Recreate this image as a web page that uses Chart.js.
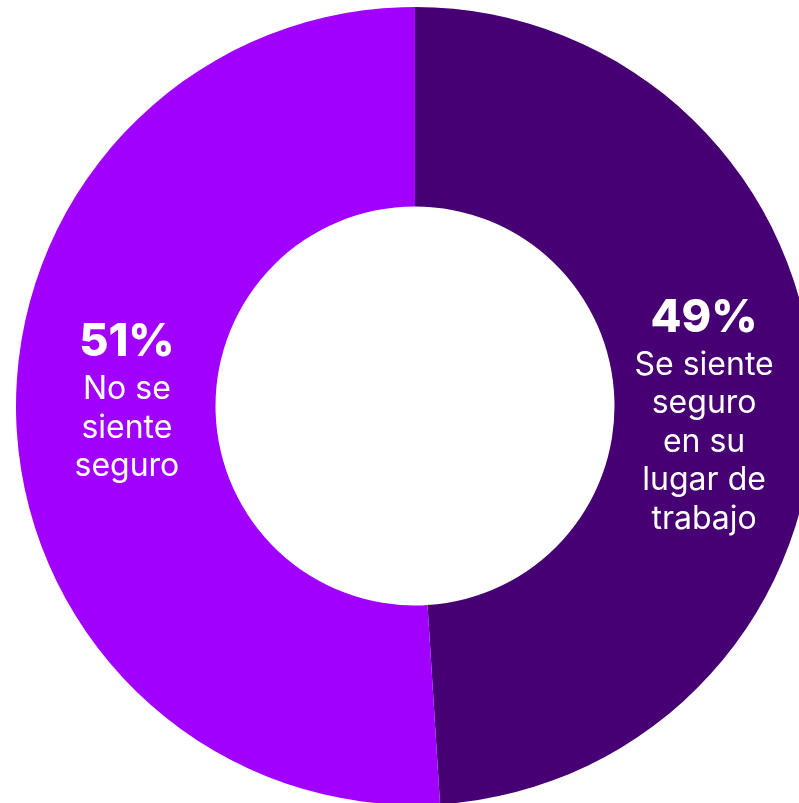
<!DOCTYPE html>
<html lang="es">
<head>
<meta charset="utf-8">
<title>Seguridad en el lugar de trabajo</title>
<script src="https://cdn.jsdelivr.net/npm/chart.js@4.4.1/dist/chart.umd.min.js"></script>
<style>
  html, body {
    margin: 0;
    padding: 0;
    width: 799px;
    height: 803px;
    overflow: hidden;
    background: #ffffff;
  }
  #wrap {
    position: absolute;
    left: 16px;
    top: 7px;
    width: 798px;
    height: 798px;
  }
</style>
</head>
<body>
<div id="wrap"><canvas id="safetyChart" width="798" height="798"></canvas></div>
<script>
// porcentaje de encuestados
const categories = ["Se siente seguro en su lugar de trabajo", "No se siente seguro"];
const values = [49, 51];
const labelLines = [
  ["Se siente", "seguro", "en su", "lugar de", "trabajo"],
  ["No se", "siente", "seguro"],
];
const sliceColors = ["#460073", "#a100ff"];

// texto centrado dentro de cada segmento
const sliceLabels = {
  id: "sliceLabels",
  afterDatasetsDraw(chart) {
    const ctx = chart.ctx;
    const meta = chart.getDatasetMeta(0);
    const cx = (chart.chartArea.left + chart.chartArea.right) / 2;
    const bigSize = 45, smallSize = 32, lineH = 38.5, gap = 43;

    meta.data.forEach((arc, i) => {
      const pos = arc.tooltipPosition();
      const lines = labelLines[i];
      // acercar un poco el bloque al centro del anillo
      const x = pos.x + (pos.x > cx ? -10 : 11);
      const blockH = gap + lineH * lines.length;
      const y = pos.y - blockH / 2 + (i === 0 ? 21 : -12);

      ctx.save();
      ctx.fillStyle = "#ffffff";
      ctx.textAlign = "center";
      ctx.textBaseline = "alphabetic";
      ctx.font = `800 ${bigSize}px Inter, "Noto Sans", sans-serif`;
      ctx.fillText(values[i] + "%", x, y + 32);
      ctx.font = `400 ${smallSize}px Inter, "Noto Sans", sans-serif`;
      lines.forEach((line, k) => {
        ctx.fillText(line, x, y + 32 + gap + lineH * k);
      });
      ctx.restore();
    });
  },
};

new Chart(document.getElementById("safetyChart"), {
  type: "doughnut",
  data: {
    labels: categories,
    datasets: [
      {
        data: values,
        backgroundColor: sliceColors,
        borderWidth: 0,
        hoverOffset: 0,
      },
    ],
  },
  options: {
    responsive: false,
    animation: false,
    devicePixelRatio: 1,
    cutout: "50%",
    rotation: 0,
    layout: { padding: 0 },
    plugins: {
      legend: { display: false },
      tooltip: { enabled: false },
    },
  },
  plugins: [sliceLabels],
});
</script>
</body>
</html>
